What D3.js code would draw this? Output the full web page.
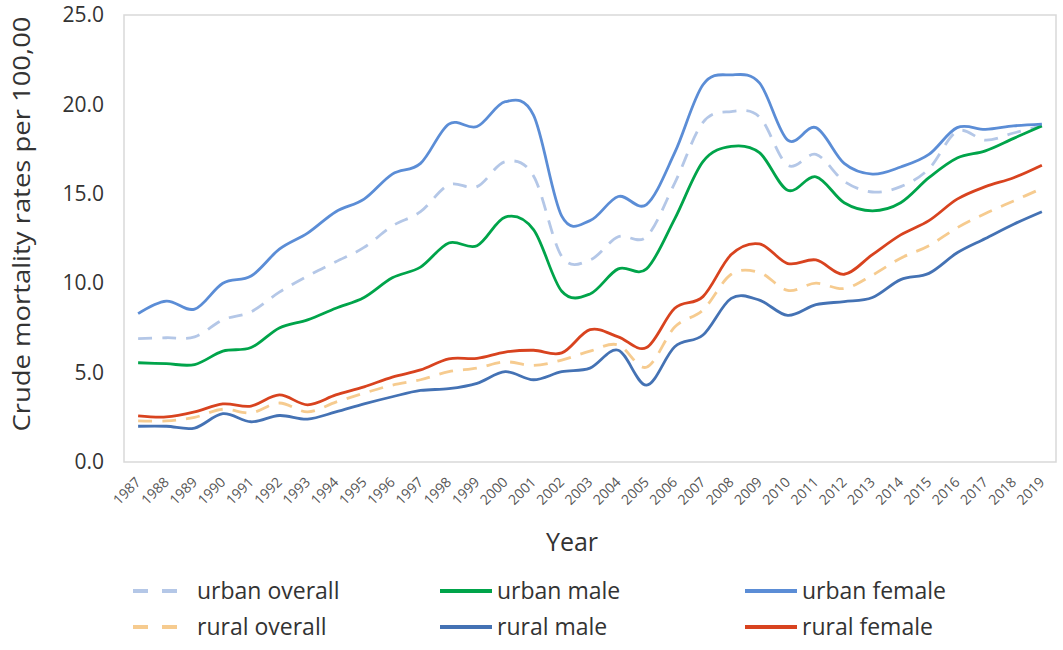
<!DOCTYPE html>
<html>
<head>
<meta charset="utf-8">
<script src="https://cdn.jsdelivr.net/npm/d3@7"></script>
<style>
  body { margin: 0; background: #fff; }
  svg { font-family: "Open Sans", "Noto Sans", sans-serif; }
</style>
</head>
<body>
<svg></svg>
<script>
const years = d3.range(1987, 2020).map(String);

const urbanOverall = [6.9, 6.95, 7.0, 7.95, 8.4, 9.5, 10.4, 11.2, 12.0, 13.2, 14.0, 15.5, 15.4, 16.8, 16.0, 11.5, 11.3, 12.6, 12.6, 15.6, 19.0, 19.6, 19.3, 16.6, 17.2, 15.7, 15.1, 15.4, 16.4, 18.5, 18.0, 18.4, 18.8];
const urbanMale = [5.55, 5.5, 5.45, 6.2, 6.4, 7.5, 7.95, 8.6, 9.2, 10.3, 10.9, 12.25, 12.1, 13.7, 13.0, 9.55, 9.4, 10.8, 10.8, 13.6, 16.8, 17.65, 17.3, 15.2, 15.95, 14.5, 14.05, 14.5, 15.9, 17.0, 17.4, 18.1, 18.8];
const urbanFemale = [8.3, 9.0, 8.55, 10.0, 10.4, 11.9, 12.8, 14.0, 14.7, 16.1, 16.7, 18.9, 18.76, 20.15, 19.4, 13.75, 13.5, 14.85, 14.4, 17.3, 21.1, 21.65, 21.2, 18.0, 18.7, 16.7, 16.1, 16.5, 17.2, 18.7, 18.6, 18.8, 18.9];
const ruralOverall = [2.3, 2.3, 2.5, 2.95, 2.75, 3.3, 2.8, 3.35, 3.85, 4.3, 4.6, 5.05, 5.25, 5.6, 5.4, 5.7, 6.2, 6.55, 5.3, 7.55, 8.5, 10.5, 10.6, 9.6, 10.0, 9.7, 10.45, 11.4, 12.1, 13.1, 13.9, 14.6, 15.3];
const ruralMale = [2.0, 2.0, 1.9, 2.7, 2.25, 2.6, 2.4, 2.8, 3.25, 3.65, 4.0, 4.1, 4.4, 5.05, 4.6, 5.05, 5.25, 6.25, 4.3, 6.45, 7.1, 9.15, 9.05, 8.2, 8.8, 8.97, 9.2, 10.2, 10.55, 11.7, 12.5, 13.3, 14.0];
const ruralFemale = [2.58, 2.52, 2.8, 3.25, 3.13, 3.75, 3.2, 3.75, 4.2, 4.75, 5.15, 5.77, 5.8, 6.15, 6.25, 6.1, 7.4, 7.0, 6.4, 8.6, 9.25, 11.6, 12.2, 11.1, 11.3, 10.5, 11.6, 12.7, 13.5, 14.7, 15.4, 15.9, 16.6];

const yTicks = [0, 5, 10, 15, 20, 25];

const series = [
  { name: "urban overall", values: urbanOverall, color: "#b4c7e7", dash: "14,10" },
  { name: "urban male", values: urbanMale, color: "#00a44a", dash: null },
  { name: "urban female", values: urbanFemale, color: "#5b8dd6", dash: null },
  { name: "rural overall", values: ruralOverall, color: "#f6cb8f", dash: "14,10" },
  { name: "rural male", values: ruralMale, color: "#4472b4", dash: null },
  { name: "rural female", values: ruralFemale, color: "#d8431f", dash: null }
];

const width = 1063;
const height = 650;
const plot = { left: 124, top: 15, right: 1056, bottom: 462 };

const svg = d3.select("svg")
  .attr("width", width)
  .attr("height", height);

const xScale = d3.scalePoint()
  .domain(years)
  .range([plot.left, plot.right])
  .padding(0.5);

const yScale = d3.scaleLinear()
  .domain([0, 25])
  .range([plot.bottom, plot.top]);

// plot frame
svg.append("rect")
  .attr("x", plot.left)
  .attr("y", plot.top)
  .attr("width", plot.right - plot.left)
  .attr("height", plot.bottom - plot.top)
  .attr("fill", "none")
  .attr("stroke", "#d9d9d9")
  .attr("stroke-width", 1.5);

// y axis
const yAxis = d3.axisLeft(yScale)
  .tickValues(yTicks)
  .tickFormat(d3.format(".1f"))
  .tickSize(0)
  .tickPadding(20);

svg.append("g")
  .attr("transform", "translate(" + plot.left + ",0)")
  .call(yAxis)
  .call(g => g.select(".domain").remove())
  .selectAll("text")
  .attr("font-size", 21)
  .attr("fill", "#333")
  .attr("font-family", "'Open Sans', 'Noto Sans', sans-serif");

// x axis
const xAxis = d3.axisBottom(xScale).tickSize(0);

const xg = svg.append("g")
  .attr("transform", "translate(0," + plot.bottom + ")")
  .call(xAxis);
xg.select(".domain").remove();
xg.selectAll("text")
  .attr("font-size", 14)
  .attr("fill", "#555")
  .attr("font-family", "'Open Sans', 'Noto Sans', sans-serif")
  .attr("text-anchor", "end")
  .attr("y", 0)
  .attr("dy", 0)
  .attr("transform", "translate(3,21) rotate(-45)");

// lines
const line = d3.line()
  .x((d, i) => xScale(years[i]))
  .y(d => yScale(d))
  .curve(d3.curveCatmullRom.alpha(0));

svg.append("g")
  .selectAll("path")
  .data(series)
  .enter()
  .append("path")
  .attr("d", d => line(d.values))
  .attr("fill", "none")
  .attr("stroke", d => d.color)
  .attr("stroke-width", 2.8)
  .attr("stroke-dasharray", d => d.dash);

// axis titles
svg.append("text")
  .attr("x", 572)
  .attr("y", 551)
  .attr("text-anchor", "middle")
  .attr("font-size", 25)
  .attr("fill", "#333")
  .text("Year");

svg.append("text")
  .attr("transform", "translate(30,224) rotate(-90)")
  .attr("text-anchor", "middle")
  .attr("font-size", 23)
  .attr("fill", "#333")
  .attr("textLength", 415)
  .attr("lengthAdjust", "spacingAndGlyphs")
  .text("Crude mortality rates per 100,00");

// legend
const legendX = [133, 440, 745];
const legendY = [591, 627];

const legend = svg.append("g")
  .selectAll("g")
  .data(series)
  .enter()
  .append("g")
  .attr("transform", (d, i) => "translate(" + legendX[i % 3] + "," + legendY[Math.floor(i / 3)] + ")");

legend.append("line")
  .attr("x1", 0)
  .attr("x2", d => d.dash ? 45 : 52)
  .attr("stroke", d => d.color)
  .attr("stroke-width", 4)
  .attr("stroke-dasharray", d => d.dash ? "15,14" : null);

legend.append("text")
  .attr("x", d => d.dash ? 64 : 57)
  .attr("dy", "0.35em")
  .attr("font-size", 23)
  .attr("fill", "#333")
  .text(d => d.name);
</script>
</body>
</html>
